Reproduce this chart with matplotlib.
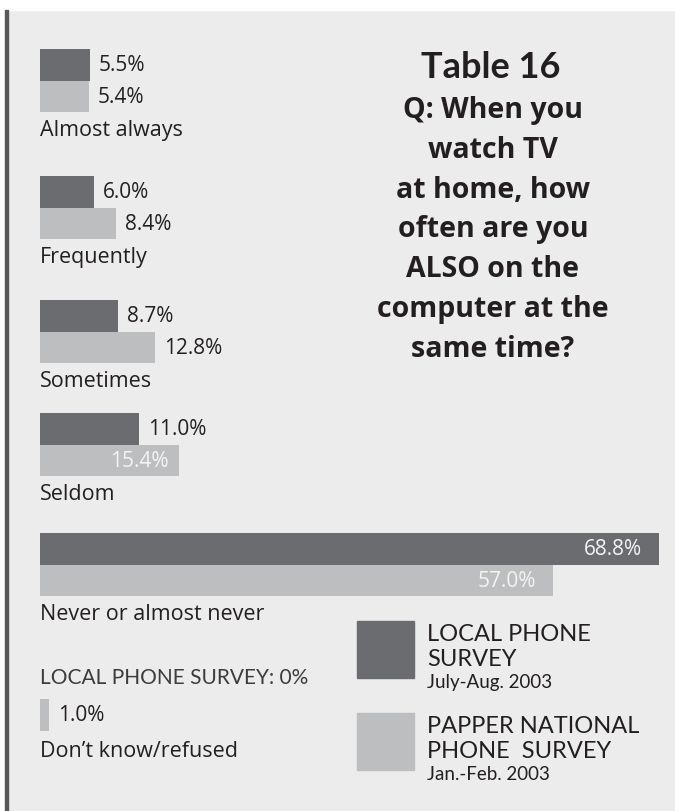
import matplotlib.pyplot as plt
from matplotlib.patches import Rectangle

W, H = 675, 812

categories = ["Almost always", "Frequently", "Sometimes", "Seldom", "Never or almost never"]
local = [5.5, 6.0, 8.7, 11.0, 68.8]
national = [5.4, 8.4, 12.8, 15.4, 57.0]
dk_label = "Don’t know/refused"
dk_local = 0.0
dk_national = 1.0

DARK = "#6b6c70"
LIGHT = "#bdbec0"
BG = "#ececec"
INK = "#231f20"
BODY = ['Open Sans', 'DejaVu Sans']

plt.rcParams['font.family'] = ['Lato', 'DejaVu Sans']

fig = plt.figure(figsize=(W / 100, H / 100), dpi=100)
fig.patch.set_facecolor(BG)


def fx(x):
    return x / W


def fy(y):
    return 1 - y / H


# white strip along the top, white gutter left of the rule, dark rule down the left side
fig.patches.append(Rectangle((0, fy(11)), 1, 11 / H, transform=fig.transFigure,
                             color='white', zorder=-2))
fig.patches.append(Rectangle((0, 0), fx(5), fy(11), transform=fig.transFigure,
                             color='white', zorder=-2))
fig.patches.append(Rectangle((fx(5), 0), 2.5 / W, fy(11), transform=fig.transFigure,
                             color="#58585a", zorder=-2))

ax = fig.add_axes([0, 0, 1, 1])
ax.set_facecolor('none')
# 9 px per percentage point, bars start 40 px in from the left edge
ax.set_xlim(-40 / 9, (W - 40) / 9)
ax.set_ylim(H, 0)
ax.axis('off')

group_top = [50, 177, 301, 414, 534]
bar_h = 31.7


def value_label(val, y):
    txt = f"{val:.1f}%"
    if val > 14:
        pad = 1.9 if val > 40 else 1.1
        ax.text(val - pad, y, txt, ha='right', va='center', color="#f4f4f4",
                fontsize=15, family=BODY)
    else:
        ax.text(val + 1.0, y, txt, ha='left', va='center', color=INK,
                fontsize=15, family=BODY)


for cat, a, b, top in zip(categories, local, national, group_top):
    ax.barh(top, a, height=bar_h, align='edge', color=DARK)
    ax.barh(top + bar_h, b, height=bar_h, align='edge', color=LIGHT)
    value_label(a, top + bar_h / 2)
    value_label(b, top + bar_h * 1.5)
    ax.text(0, top + 2 * bar_h + 23, cat, ha='left', va='baseline', color=INK,
            fontsize=15.5, family=BODY)

# don't know / refused: local survey had no responses
ax.text(0, 684, f"LOCAL PHONE SURVEY: {dk_local:.0f}%", ha='left', va='baseline',
        color="#3c3c3e", fontsize=15)
ax.barh(700, dk_national, height=bar_h, align='edge', color=LIGHT)
value_label(dk_national, 700 + bar_h / 2)
ax.text(0, 757, dk_label, ha='left', va='baseline', color=INK, fontsize=15.5, family=BODY)

# title block
fig.text(fx(491), fy(78), "Table 16", ha='center', va='baseline', fontsize=26,
         fontweight='bold', color=INK)
question = ["Q: When you", "watch TV", "at home, how", "often are you",
            "ALSO on the", "computer at the", "same time?"]
for i, line in enumerate(question):
    fig.text(fx(493), fy(118 + 39.8 * i), line, ha='center', va='baseline', fontsize=20.5,
             fontweight='bold', color=INK, family=BODY)

# legend
legend = [(DARK, ["LOCAL PHONE", "SURVEY"], "July-Aug. 2003", 622),
          (LIGHT, ["PAPPER NATIONAL", "PHONE  SURVEY"], "Jan.-Feb. 2003", 714)]
for color, lines, dates, top in legend:
    fig.patches.append(Rectangle((fx(357), fy(top + 57)), 57 / W, 57 / H,
                                 transform=fig.transFigure, color=color, zorder=1))
    for j, line in enumerate(lines):
        fig.text(fx(427), fy(top + 19 + 25.5 * j), line, ha='left', va='baseline',
                 fontsize=17, color=INK)
    fig.text(fx(427), fy(top + 66), dates, ha='left', va='baseline', fontsize=13.5, color=INK)

fig.savefig("out.png", dpi=100, facecolor=fig.get_facecolor())
